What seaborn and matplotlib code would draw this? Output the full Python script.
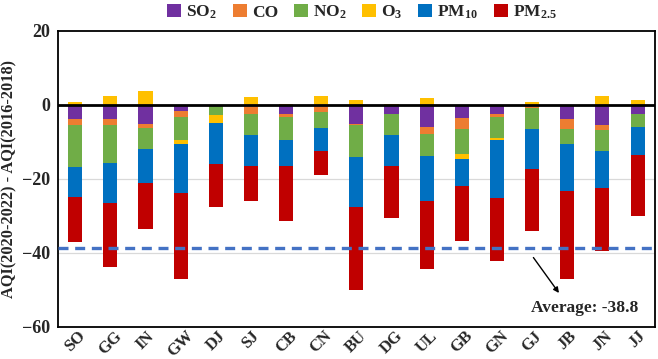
import seaborn as sns
import matplotlib.pyplot as plt
import numpy as np
import pandas as pd

cities = ["SO", "GG", "IN", "GW", "DJ", "SJ", "CB", "CN", "BU",
          "DG", "UL", "GB", "GN", "GJ", "JB", "JN", "JJ"]
so2 = [-4.0, -3.9, -5.2, -1.7, 0.0, 0.0, -2.4, 0.0, -5.1,
       -2.4, -6.0, -3.5, -2.6, -0.3, -3.8, -5.4, -2.6]
co = [-1.6, -1.7, -1.1, -1.6, 0.0, -2.4, -0.9, -2.0, -0.5,
      0.0, -2.0, -3.2, -0.7, -0.5, -2.7, -1.4, 0.0]
no2 = [-11.3, -10.2, -5.8, -6.3, -2.9, -5.9, -6.3, -4.3, -8.6,
       -5.7, -6.0, -6.5, -5.7, -5.7, -4.2, -5.8, -3.3]
o3 = [0.6, 2.4, 3.6, -0.9, -2.1, 2.2, 0.3, 2.4, 1.2,
      0.3, 1.7, -1.6, -0.6, 0.8, 0.0, 2.3, 1.2]
pm10 = [-8.1, -10.8, -9.1, -13.3, -11.0, -8.4, -7.0, -6.1, -13.5,
        -8.6, -11.9, -7.1, -15.5, -11.0, -12.7, -9.9, -7.8]
pm25 = [-12.2, -17.4, -12.3, -23.3, -11.6, -9.3, -14.9, -6.6, -22.4,
        -13.9, -18.4, -14.9, -17.2, -16.7, -23.6, -17.1, -16.3]
average = -38.8

labels = ["SO$_2$", "CO", "NO$_2$", "O$_3$", "PM$_{10}$", "PM$_{2.5}$"]
series = [so2, co, no2, o3, pm10, pm25]
colors = ["#7030A0", "#ED7D31", "#70AD47", "#FFC000", "#0070C0", "#C00000"]

sns.set_style("white")
plt.rcParams["font.family"] = ["Liberation Serif", "DejaVu Serif"]
plt.rcParams["font.weight"] = "bold"
plt.rcParams["mathtext.fontset"] = "custom"
plt.rcParams["mathtext.rm"] = "Liberation Serif:bold"
plt.rcParams["mathtext.it"] = "Liberation Serif:bold"
plt.rcParams["mathtext.bf"] = "Liberation Serif:bold"

fig = plt.figure(figsize=(6.58, 3.59), dpi=100)
ax = fig.add_axes([0.0886, 0.090, 0.9076, 0.8245])

pos_base = np.zeros(len(cities))
neg_base = np.zeros(len(cities))
for lab, vals, col in zip(labels, series, colors):
    v = np.array(vals)
    bottom = np.where(v >= 0, pos_base, neg_base)
    df = pd.DataFrame({"city": cities, "val": v})
    sns.barplot(data=df, x="city", y="val", order=cities, color=col,
                saturation=1, width=0.4, bottom=bottom, label=lab,
                errorbar=None, ax=ax, linewidth=0)
    pos_base = pos_base + np.where(v >= 0, v, 0)
    neg_base = neg_base + np.where(v < 0, v, 0)

ax.axhline(0, color="black", lw=2, zorder=3)
for g in [-20, -40]:
    ax.axhline(g, color="#d9d9d9", lw=0.9, zorder=0)
ax.axhline(average, color="#4472C4", lw=2.4, dashes=(3, 2), zorder=4)

ax.annotate("Average: -38.8", xy=(13.81, -51.5), xytext=(12.97, -55.0),
            fontsize=12.5, fontweight="bold", va="center", ha="left")
ax.annotate("", xy=(13.81, -51.5), xytext=(12.99, -40.7),
            arrowprops=dict(arrowstyle="-|>", color="black", lw=1,
                            mutation_scale=8))

ax.set_xlim(-0.48, 16.51)
ax.set_ylim(-60, 20)
ax.set_yticks([-60, -40, -20, 0, 20])
ax.set_xlabel("")
ax.set_ylabel("AQI(2020-2022) - AQI(2016-2018)", fontsize=11.8,
              fontweight="bold", labelpad=3)
ax.tick_params(axis="y", labelsize=13, length=0, pad=6)
ax.tick_params(axis="x", labelsize=12, length=0, pad=1)
plt.setp(ax.get_xticklabels(), rotation=45, ha="center", fontweight="bold")
plt.setp(ax.get_yticklabels(), fontweight="bold")
for s in ax.spines.values():
    s.set_visible(True)
    s.set_color("black")
    s.set_linewidth(1.3)

ax.legend(loc="center", bbox_to_anchor=(0.55, 0.965), bbox_transform=fig.transFigure,
          ncol=6, frameon=False, fontsize=12.5, handlelength=0.8, handleheight=0.8,
          handletextpad=0.3, columnspacing=0.9, borderaxespad=0)

fig.savefig("out.png", dpi=100)
